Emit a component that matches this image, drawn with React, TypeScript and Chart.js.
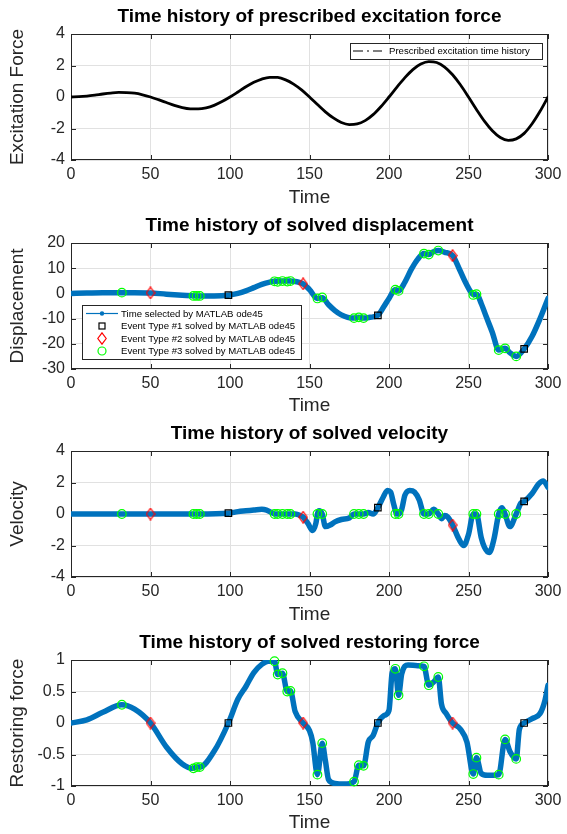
import React, { useEffect, useRef } from "react";
import { Chart, registerables } from "chart.js";

Chart.register(...registerables);

const FONT = '"Liberation Sans", Arial, Helvetica, sans-serif';
const INK = "#262626";
const GRID = "#e1e1e1";
const BLUE = "#0072BD";
const GREEN = "#00ff00";
const RED = "#ff0000";

// ---------------- data ----------------
const xTicks = [0, 50, 100, 150, 200, 250, 300];
const forceTicks = [-4, -2, 0, 2, 4];
const dispTicks = [-30, -20, -10, 0, 10, 20];
const velTicks = [-4, -2, 0, 2, 4];
const restTicks = [-1, -0.5, 0, 0.5, 1];

const forceTime = [
  0, 5, 10, 15, 20, 25, 30, 35, 40, 45, 50, 55, 60, 65, 70, 75, 80, 85, 90, 95,
  100, 105, 110, 115, 120, 125, 130, 135, 140, 145, 150, 155, 160, 165, 170, 175, 180, 185, 190, 195,
  200, 205, 210, 215, 220, 225, 230, 235, 240, 245, 250, 255, 260, 265, 270, 275, 280, 285, 290, 295, 300,
];
const forceValues = [
  0, 0.02, 0.06, 0.12, 0.19, 0.25, 0.29, 0.28, 0.24, 0.14,
  0, -0.17, -0.35, -0.53, -0.67, -0.75, -0.76, -0.69, -0.53, -0.29,
  0, 0.32, 0.65, 0.93, 1.14, 1.25, 1.24, 1.09, 0.82, 0.45,
  0, -0.48, -0.94, -1.33, -1.62, -1.75, -1.71, -1.5, -1.12, -0.6,
  0, 0.63, 1.23, 1.74, 2.09, 2.25, 2.19, 1.9, 1.41, 0.76,
  0, -0.79, -1.53, -2.14, -2.57, -2.75, -2.66, -2.31, -1.7, -0.91, 0,
];

const dispTime = [
  0, 10, 20, 32, 40, 50, 60, 70, 79, 90, 99, 105, 110, 115, 120, 125, 128, 133, 138, 142,
  146, 150, 155, 158, 162, 166, 170, 174, 178, 181, 184, 188, 193, 197, 200, 204, 206, 210, 214, 218,
  222, 225, 228, 231, 235, 240, 244, 248, 251, 253, 255, 258, 261, 265, 269, 273, 276, 280, 285, 290, 295, 300,
];
const dispValues = [
  0, 0.2, 0.3, 0.3, 0.3, 0.2, -0.3, -0.7, -1.0, -1.0, -0.7, 0, 1, 2.3, 3.6, 4.5, 4.8, 4.9, 4.9, 4.6,
  3.8, 1.5, -2.0, -1.7, -4.5, -6.8, -8.5, -9.5, -9.8, -9.5, -9.8, -9.5, -8.7, -5, -2, 1.5, 1.0, 4.5, 9.5, 13.5,
  15.8, 15.4, 16.5, 17.0, 16.3, 15.0, 10, 4.5, 1, -0.5, -0.3, -4, -9, -15.5, -22.5, -21.8, -23.5, -25, -22, -17, -10, -2,
];

const velTime = [
  0, 20, 40, 60, 80, 99, 105, 110, 115, 120, 123, 126, 128, 130, 133, 136, 138, 141, 143, 146,
  149, 152, 154, 155, 156, 158, 160, 163, 166, 170, 175, 178, 181, 184, 187, 190, 193, 196, 199, 201,
  203, 205, 206, 208, 210, 213, 216, 219, 222, 225, 228, 231, 233, 235, 237, 240, 244, 247, 250, 253,
  255, 258, 260, 263, 266, 269, 271, 273, 276, 280, 283, 285, 290, 294, 297, 300,
];
const velValues = [
  0, 0, 0, 0, 0, 0.05, 0.15, 0.2, 0.25, 0.3, 0.25, 0.1, 0, 0, 0, 0, 0, 0, -0.05, -0.2,
  -0.6, -1.05, -0.6, 0, 0.2, 0, -0.8, -0.7, -0.5, -0.35, -0.25, 0, 0, 0, 0.1, 0, 0.4, 1.0, 1.5, 1.4,
  0.6, 0, 0, 0.3, 1.2, 1.5, 1.4, 0.9, 0, 0, 0.3, 0, -0.3, -0.1, -0.2, -0.7, -1.6, -2.0, -1.3, 0,
  0, -1.5, -2.1, -2.45, -1.6, 0, 0.4, 0, -0.8, 0, 0.7, 0.8, 1.3, 1.9, 2.1, 1.7,
];

const restTime = [
  0, 10, 20, 32, 40, 50, 60, 70, 77, 79, 81, 90, 99, 105, 110, 115, 120, 124, 128, 130,
  133, 136, 138, 141, 146, 150, 152, 155, 158, 160, 162, 166, 172, 178, 181, 184, 187, 190, 193, 197,
  200, 202, 204, 206, 208, 212, 218, 222, 225, 228, 231, 233, 236, 240, 245, 249, 253, 255, 258, 262,
  266, 269, 273, 276, 280, 282, 285, 290, 295, 298, 300,
];
const restValues = [
  0, 0.05, 0.17, 0.29, 0.22, 0, -0.38, -0.65, -0.72, -0.7, -0.7, -0.45, 0, 0.38, 0.58, 0.8, 0.93, 0.98, 0.98, 0.77,
  0.79, 0.5, 0.51, 0.18, 0, -0.12, -0.3, -0.82, -0.32, -0.6, -0.9, -0.96, -0.97, -0.93, -0.67, -0.68, -0.3, -0.2, 0, 0.12,
  0.2, 0.8, 0.86, 0.44, 0.78, 0.92, 0.91, 0.9, 0.6, 0.65, 0.73, 0.3, 0.15, 0, -0.1, -0.3, -0.81, -0.55, -0.8, -0.83,
  -0.83, -0.82, -0.26, -0.45, -0.57, -0.1, 0, 0.07, 0.15, 0.35, 0.6,
];

// events
const ev1Time = [99, 193, 285];
const ev1Disp = [-0.7, -8.7, -22];
const ev1Vel = [0.05, 0.4, 0.8];
const ev1Rest = [0, 0, 0];

const ev2Time = [50, 146, 240];
const ev2Disp = [0.2, 3.8, 15];
const ev2Vel = [0, -0.2, -0.7];
const ev2Rest = [0, 0, 0];

const ev3Time = [32, 77, 79, 81, 128, 130, 133, 136, 138, 155, 158, 178, 181, 184, 204, 206, 222, 225, 231, 253, 255, 269, 273, 280];
const ev3Disp = [0.3, -1, -1, -1, 4.8, 4.6, 4.9, 4.7, 4.9, -2, -1.6, -9.8, -9.5, -9.8, 1.5, 1.0, 15.8, 15.4, 17.0, -0.6, -0.3, -22.5, -21.8, -25];
const ev3Vel = [0, 0, 0, 0, 0, 0, 0, 0, 0, 0, 0, 0, 0, 0, 0, 0, 0, 0, 0, 0, 0, 0, 0, 0];
const ev3Rest = [0.29, -0.72, -0.7, -0.7, 0.98, 0.77, 0.79, 0.5, 0.51, -0.82, -0.32, -0.93, -0.67, -0.68, 0.86, 0.44, 0.9, 0.6, 0.73, -0.81, -0.55, -0.82, -0.26, -0.57];

const legendForce = ["Prescribed excitation time history"];
const legendSolved = [
  "Time selected by MATLAB ode45",
  "Event Type #1 solved by MATLAB ode45",
  "Event Type #2 solved by MATLAB ode45",
  "Event Type #3 solved by MATLAB ode45",
];

// ---------------- layout ----------------
const PANEL_TOPS = [0, 209, 417, 626];
const PANEL_HEIGHTS = [209, 208, 209, 208];
const PLOT_TOP = 34;
const PLOT_BOTTOM = 160;
const PLOT_LEFT = 71;
const PLOT_RIGHT_PAD = 19;

const pts = (t: number[], v: number[]) => t.map((x, i) => ({ x, y: v[i] }));

function makeDiamond(): HTMLCanvasElement {
  const c = document.createElement("canvas");
  c.width = 10;
  c.height = 13;
  const g = c.getContext("2d")!;
  g.strokeStyle = RED;
  g.lineWidth = 1.2;
  g.beginPath();
  g.moveTo(5, 0.8);
  g.lineTo(9.2, 6.5);
  g.lineTo(5, 12.2);
  g.lineTo(0.8, 6.5);
  g.closePath();
  g.stroke();
  return c;
}

type LegendKind = "dashline" | "dotline" | "square" | "diamond" | "circle";
type LegendSpec = {
  box: [number, number, number, number];
  rows: { kind: LegendKind; label: string; y: number }[];
  sampleX0: number;
  sampleX1: number;
  textX: number;
};

function matlabPlugin(title: string, yT: number[], legend: LegendSpec | null, diamond: HTMLCanvasElement) {
  return {
    id: "matlabAxes",
    beforeDatasetsDraw(chart: any) {
      const { ctx, chartArea: a } = chart;
      const xs = chart.scales.x;
      const ys = chart.scales.y;
      ctx.save();
      ctx.strokeStyle = INK;
      ctx.lineWidth = 1;
      ctx.beginPath();
      for (const v of xTicks) {
        const p = Math.round(xs.getPixelForValue(v)) + 0.5;
        ctx.moveTo(p, a.bottom);
        ctx.lineTo(p, a.bottom - 5);
        ctx.moveTo(p, a.top);
        ctx.lineTo(p, a.top + 5);
      }
      for (const v of yT) {
        const p = Math.round(ys.getPixelForValue(v)) + 0.5;
        ctx.moveTo(a.left, p);
        ctx.lineTo(a.left + 5, p);
        ctx.moveTo(a.right, p);
        ctx.lineTo(a.right - 5, p);
      }
      ctx.stroke();
      ctx.strokeRect(
        Math.round(a.left) + 0.5,
        Math.round(a.top) + 0.5,
        Math.round(a.right - a.left) - 1,
        Math.round(a.bottom - a.top) - 1
      );
      ctx.restore();
    },
    afterDraw(chart: any) {
      const { ctx, chartArea: a } = chart;
      ctx.save();
      ctx.fillStyle = "#000";
      ctx.font = `bold 19px ${FONT}`;
      ctx.textAlign = "center";
      ctx.textBaseline = "middle";
      ctx.fillText(title, (a.left + a.right) / 2, a.top - 17);
      if (legend) {
        const [bx, by, bw, bh] = legend.box;
        ctx.fillStyle = "#fff";
        ctx.fillRect(bx, by, bw, bh);
        ctx.strokeStyle = INK;
        ctx.lineWidth = 1;
        ctx.strokeRect(bx + 0.5, by + 0.5, bw, bh);
        ctx.font = `9.6px ${FONT}`;
        ctx.textAlign = "left";
        const mx = (legend.sampleX0 + legend.sampleX1) / 2;
        for (const r of legend.rows) {
          if (r.kind === "dashline") {
            ctx.strokeStyle = "#000";
            ctx.lineWidth = 1.2;
            ctx.setLineDash([10, 4, 2, 4]);
            ctx.beginPath();
            ctx.moveTo(legend.sampleX0, r.y);
            ctx.lineTo(legend.sampleX1, r.y);
            ctx.stroke();
            ctx.setLineDash([]);
          } else if (r.kind === "dotline") {
            ctx.strokeStyle = BLUE;
            ctx.lineWidth = 1.2;
            ctx.beginPath();
            ctx.moveTo(legend.sampleX0, r.y);
            ctx.lineTo(legend.sampleX1, r.y);
            ctx.stroke();
            ctx.fillStyle = BLUE;
            ctx.beginPath();
            ctx.arc(mx, r.y, 2.2, 0, Math.PI * 2);
            ctx.fill();
          } else if (r.kind === "square") {
            ctx.strokeStyle = "#000";
            ctx.lineWidth = 1.2;
            ctx.strokeRect(mx - 3, r.y - 3, 6, 6);
          } else if (r.kind === "diamond") {
            ctx.drawImage(diamond, mx - diamond.width / 2, r.y - diamond.height / 2);
          } else if (r.kind === "circle") {
            ctx.strokeStyle = GREEN;
            ctx.lineWidth = 1.2;
            ctx.beginPath();
            ctx.arc(mx, r.y, 4, 0, Math.PI * 2);
            ctx.stroke();
          }
          ctx.fillStyle = "#000";
          ctx.textBaseline = "middle";
          ctx.fillText(r.label, legend.textX, r.y + 0.5);
        }
      }
      ctx.restore();
    },
  };
}

function buildChart(
  canvas: HTMLCanvasElement,
  h: number,
  title: string,
  yLabel: string,
  yMin: number,
  yMax: number,
  yT: number[],
  datasets: any[],
  legend: LegendSpec | null,
  diamond: HTMLCanvasElement
) {
  return new Chart(canvas, {
    type: "scatter",
    data: { datasets },
    options: {
      responsive: false,
      animation: false,
      events: [],
      layout: { padding: { top: PLOT_TOP, right: PLOT_RIGHT_PAD, bottom: 0, left: 0 } },
      plugins: { legend: { display: false }, tooltip: { enabled: false }, title: { display: false } },
      scales: {
        x: {
          type: "linear",
          min: 0,
          max: 300,
          afterBuildTicks: (s: any) => {
            s.ticks = xTicks.map((v) => ({ value: v }));
          },
          afterFit: (s: any) => {
            s.height = h - PLOT_BOTTOM;
          },
          grid: { color: GRID, lineWidth: 1, drawTicks: false },
          border: { display: false },
          ticks: {
            color: INK,
            font: { size: 16, family: FONT },
            padding: 5,
            maxRotation: 0,
            autoSkip: false,
            callback: (v: any) => String(v),
          },
          title: {
            display: true,
            text: "Time",
            color: INK,
            font: { size: 19, family: FONT, lineHeight: 1 },
            padding: { top: 0, bottom: 2 },
          },
        },
        y: {
          type: "linear",
          min: yMin,
          max: yMax,
          afterBuildTicks: (s: any) => {
            s.ticks = yT.map((v) => ({ value: v }));
          },
          afterFit: (s: any) => {
            s.width = PLOT_LEFT;
          },
          grid: { color: GRID, lineWidth: 1, drawTicks: false },
          border: { display: false },
          ticks: {
            color: INK,
            font: { size: 16, family: FONT },
            padding: 6,
            autoSkip: false,
            callback: (v: any) => String(v),
          },
          title: {
            display: true,
            text: yLabel,
            color: INK,
            font: { size: 19, family: FONT, lineHeight: 1 },
            padding: { top: 8, bottom: 0 },
          },
        },
      },
    } as any,
    plugins: [matlabPlugin(title, yT, legend, diamond) as any],
  });
}

function curve(t: number[], v: number[], color: string, width: number) {
  return {
    type: "line",
    data: pts(t, v),
    borderColor: color,
    borderWidth: width,
    pointRadius: 0,
    showLine: true,
    tension: 0.4,
    cubicInterpolationMode: "monotone",
    order: 10,
    borderCapStyle: "round",
    borderJoinStyle: "round",
  };
}

function markers(t: number[], v: number[], style: any, color: string, radius: number) {
  return {
    type: "scatter",
    data: pts(t, v),
    pointStyle: style,
    pointRadius: radius,
    pointBorderColor: color,
    pointBackgroundColor: "rgba(0,0,0,0)",
    pointBorderWidth: 1.2,
    showLine: false,
    clip: false,
    order: 1,
  };
}

export default function App() {
  const r0 = useRef<HTMLCanvasElement>(null);
  const r1 = useRef<HTMLCanvasElement>(null);
  const r2 = useRef<HTMLCanvasElement>(null);
  const r3 = useRef<HTMLCanvasElement>(null);

  useEffect(() => {
    const diamond = makeDiamond();
    const charts: Chart[] = [];
    const ev = (d1: number[], d2: number[], d3: number[]) => [
      markers(ev1Time, d1, "rect", "#000", 4.6),
      markers(ev2Time, d2, diamond, RED, 5),
      markers(ev3Time, d3, "circle", GREEN, 4.3),
    ];

    const legend1: LegendSpec = {
      box: [350, 43, 192, 16],
      rows: [{ kind: "dashline", label: legendForce[0], y: 51 }],
      sampleX0: 353,
      sampleX1: 382,
      textX: 389,
    };
    const legend2: LegendSpec = {
      box: [82, 96, 219, 54],
      rows: [
        { kind: "dotline", label: legendSolved[0], y: 104.5 },
        { kind: "square", label: legendSolved[1], y: 117 },
        { kind: "diamond", label: legendSolved[2], y: 129.5 },
        { kind: "circle", label: legendSolved[3], y: 142 },
      ],
      sampleX0: 86,
      sampleX1: 118,
      textX: 121,
    };

    charts.push(
      buildChart(r0.current!, PANEL_HEIGHTS[0], "Time history of prescribed excitation force", "Excitation Force", -4, 4, forceTicks,
        [curve(forceTime, forceValues, "#000", 2.8)], legend1, diamond)
    );
    charts.push(
      buildChart(r1.current!, PANEL_HEIGHTS[1], "Time history of solved displacement", "Displacement", -30, 20, dispTicks,
        [curve(dispTime, dispValues, BLUE, 5.5), ...ev(ev1Disp, ev2Disp, ev3Disp)], legend2, diamond)
    );
    charts.push(
      buildChart(r2.current!, PANEL_HEIGHTS[2], "Time history of solved velocity", "Velocity", -4, 4, velTicks,
        [curve(velTime, velValues, BLUE, 5.5), ...ev(ev1Vel, ev2Vel, ev3Vel)], null, diamond)
    );
    charts.push(
      buildChart(r3.current!, PANEL_HEIGHTS[3], "Time history of solved restoring force", "Restoring force", -1, 1, restTicks,
        [curve(restTime, restValues, BLUE, 5.5), ...ev(ev1Rest, ev2Rest, ev3Rest)], null, diamond)
    );
    return () => charts.forEach((c) => c.destroy());
  }, []);

  const refs = [r0, r1, r2, r3];
  return (
    <div style={{ position: "absolute", left: 0, top: 0, width: 567, height: 834, background: "#fff" }}>
      {refs.map((r, i) => (
        <canvas
          key={i}
          ref={r}
          width={567}
          height={PANEL_HEIGHTS[i]}
          style={{ position: "absolute", left: 0, top: PANEL_TOPS[i], width: 567, height: PANEL_HEIGHTS[i] }}
        />
      ))}
    </div>
  );
}
